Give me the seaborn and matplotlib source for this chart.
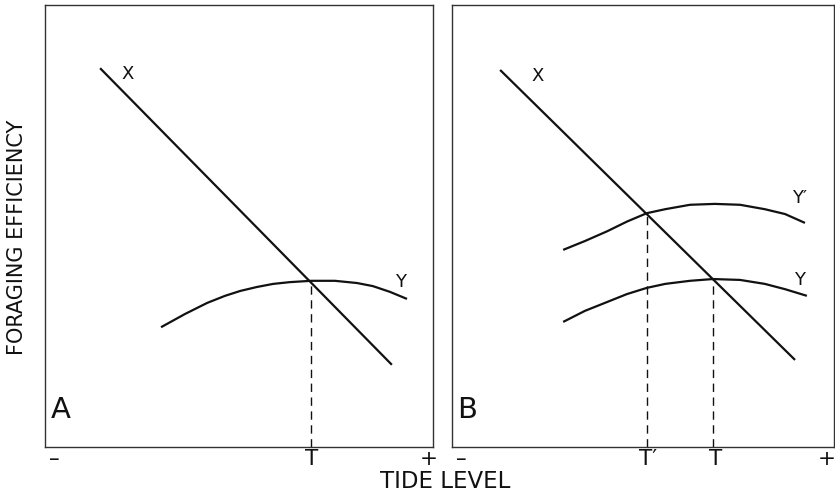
import numpy as np
import pandas as pd
import seaborn as sns
import matplotlib.pyplot as plt

# ---- data (0-100 scale in each panel) ----
# Panel A
a_x_line_x = [14.2, 89.4]
a_x_line_y = [85.7, 18.6]
a_y_curve_x = [29.9, 36.1, 41.8, 46.4, 50.3, 54.6, 58.8, 63.1, 68.6, 74.7, 80.4, 84.5, 88.9, 93.3]
a_y_curve_y = [27.1, 30.1, 32.6, 34.2, 35.3, 36.2, 36.9, 37.3, 37.6, 37.6, 37.1, 36.4, 35.1, 33.5]
a_t_x = 68.6
a_t_y = 37.6
a_ticks = [2.3, 68.6, 99.0]
a_ticklabels = ["–", "T", "+"]

# Panel B
b_x_line_x = [12.6, 89.8]
b_x_line_y = [85.3, 19.7]
b_yp_curve_x = [29.1, 34.8, 40.6, 45.8, 51.0, 55.8, 62.3, 68.8, 75.4, 81.9, 87.2, 92.4]
b_yp_curve_y = [44.6, 46.6, 48.8, 51.0, 52.9, 53.8, 54.8, 55.0, 54.8, 53.8, 52.7, 50.7]
b_y_curve_x = [29.1, 34.8, 40.6, 45.8, 51.0, 55.8, 62.3, 68.3, 75.4, 81.9, 87.2, 92.9]
b_y_curve_y = [28.3, 30.8, 32.8, 34.6, 36.0, 36.9, 37.6, 38.0, 37.8, 36.9, 35.7, 34.2]
b_tp_x, b_tp_y = 51.0, 52.9
b_t_x, b_t_y = 68.3, 38.0
b_ticks = [2.4, 51.3, 69.1, 98.2]
b_ticklabels = ["–", "T\u2032", "T", "+"]

sns.set_theme(style="white")
plt.rcParams['font.family'] = ['DejaVu Sans']

fig = plt.figure(figsize=(8.35, 4.91), dpi=100)
axA = fig.add_axes([45/835, 1-447/491, 388/835, 442/491])
axB = fig.add_axes([452/835, 1-447/491, 382/835, 442/491])

LW = 1.6
ink = "#111111"
line_kw = dict(color=ink, lw=LW, sort=False, estimator=None,
               solid_joinstyle='round', solid_capstyle='butt')

def frame(ax, ticks, labels):
    ax.set_xlim(0, 100)
    ax.set_ylim(0, 100)
    ax.set_yticks([])
    ax.set_xticks(ticks)
    ax.set_xticklabels(labels, fontsize=15.5, color=ink)
    ax.tick_params(axis='x', length=0, pad=1.5)
    for s in ax.spines.values():
        s.set_visible(True)
        s.set_color("#333333")
        s.set_linewidth(1.0)
    ax.set_xlabel("")
    ax.set_ylabel("")

# Panel A
sns.lineplot(x=a_x_line_x, y=a_x_line_y, ax=axA, **line_kw)
sns.lineplot(x=a_y_curve_x, y=a_y_curve_y, ax=axA, **line_kw)
sns.lineplot(x=[a_t_x, a_t_x], y=[0, a_t_y], ax=axA, color=ink, lw=1.0, sort=False,
             estimator=None, linestyle=(0, (6, 4)))
axA.text(21.4, 84.4, "X", fontsize=13, ha='center', va='center', color=ink)
axA.text(91.5, 37.3, "Y", fontsize=13, ha='center', va='center', color=ink)
axA.text(4.1, 8.4, "A", fontsize=21, ha='center', va='center', color=ink)
frame(axA, a_ticks, a_ticklabels)

# Panel B
sns.lineplot(x=b_x_line_x, y=b_x_line_y, ax=axB, **line_kw)
sns.lineplot(x=b_yp_curve_x, y=b_yp_curve_y, ax=axB, **line_kw)
sns.lineplot(x=b_y_curve_x, y=b_y_curve_y, ax=axB, **line_kw)
for tx, ty in [(b_tp_x, b_tp_y), (b_t_x, b_t_y)]:
    sns.lineplot(x=[tx, tx], y=[0, ty], ax=axB, color=ink, lw=1.0, sort=False,
                 estimator=None, linestyle=(0, (6, 4)))
axB.text(22.3, 83.9, "X", fontsize=13, ha='center', va='center', color=ink)
axB.text(91.1, 56.3, "Y\u2032", fontsize=13, ha='center', va='center', color=ink)
axB.text(91.1, 37.8, "Y", fontsize=13, ha='center', va='center', color=ink)
axB.text(3.9, 8.4, "B", fontsize=21, ha='center', va='center', color=ink)
frame(axB, b_ticks, b_ticklabels)

fig.text(445/835, 1-481/491, "TIDE LEVEL", fontsize=16.5, ha='center', va='center', color=ink)
fig.text(17/835, 1-237/491, "FORAGING EFFICIENCY", fontsize=15, rotation=90,
         ha='center', va='center', color=ink)

fig.savefig("out.png", dpi=100)
